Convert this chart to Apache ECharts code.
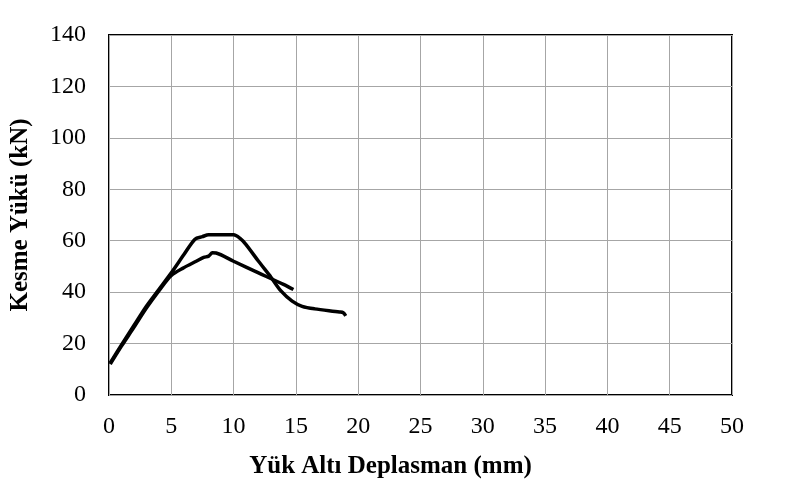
<!DOCTYPE html>
<html>
<head>
<meta charset="utf-8">
<script src="https://cdn.jsdelivr.net/npm/echarts@6/dist/echarts.min.js"></script>
<style>
  html, body { margin: 0; padding: 0; background: #fff; }
  #chart { width: 787px; height: 484px; }
</style>
</head>
<body>
<div id="chart"></div>
<script>
// Load–displacement curves of the two specimens
const specimenA = [
  [0.1, 12.5], [1, 19.5], [2, 27], [3, 34.5], [4, 41], [5, 47.5], [6, 54.5],
  [6.9, 60.6], [7.5, 61.6], [8, 62.3], [9, 62.3], [10, 62.3], [10.5, 61],
  [11, 58.5], [12, 52], [13, 45.8], [13.8, 40.5], [14.7, 36.5], [15.5, 34.5],
  [16.5, 33.5], [18.5, 32.3], [18.8, 32], [19, 30.8]
];
const specimenB = [
  [0.1, 12], [1, 19], [2, 26.3], [3, 33.8], [4, 40.5], [5, 46.5], [6, 49.5],
  [7, 52], [7.6, 53.5], [8, 54], [8.3, 55.3], [8.6, 55.2], [10, 52],
  [12, 47.5], [14, 43], [14.8, 41]
];
const xTicks = { min: 0, max: 50, interval: 5 };
const yTicks = { min: 0, max: 140, interval: 20 };

const chart = echarts.init(document.getElementById('chart'));
const font = '"Liberation Serif", "Times New Roman", serif';
const lineSeries = (data) => ({
  type: 'line',
  data: data,
  showSymbol: false,
  smooth: 0.3,
  lineStyle: { color: '#000', width: 3.5 },
  animation: false
});

chart.setOption({
  backgroundColor: '#fff',
  grid: { left: 108, right: 55, top: 35, bottom: 88, show: true, borderColor: '#000', borderWidth: 2 },
  xAxis: {
    type: 'value',
    min: xTicks.min, max: xTicks.max, interval: xTicks.interval,
    name: 'Yük Altı Deplasman (mm)',
    nameLocation: 'middle',
    nameGap: 59,
    nameTextStyle: {
      fontFamily: font, fontSize: 25, fontWeight: 'bold', color: '#000',
      padding: [0, 60, 0, 0]
    },
    axisLine: { show: false },
    axisTick: { show: false },
    axisLabel: { fontFamily: font, fontSize: 24, color: '#000', margin: 20 },
    splitLine: { lineStyle: { color: '#a6a6a6', width: 1 } }
  },
  yAxis: {
    type: 'value',
    min: yTicks.min, max: yTicks.max, interval: yTicks.interval,
    name: 'Kesme Yükü (kN)',
    nameLocation: 'middle',
    nameGap: 76,
    nameTextStyle: { fontFamily: font, fontSize: 25, fontWeight: 'bold', color: '#000' },
    axisLine: { show: false },
    axisTick: { show: false },
    axisLabel: { fontFamily: font, fontSize: 24, color: '#000', margin: 23 },
    splitLine: { lineStyle: { color: '#a6a6a6', width: 1 } }
  },
  series: [lineSeries(specimenA), lineSeries(specimenB)]
});
</script>
</body>
</html>
